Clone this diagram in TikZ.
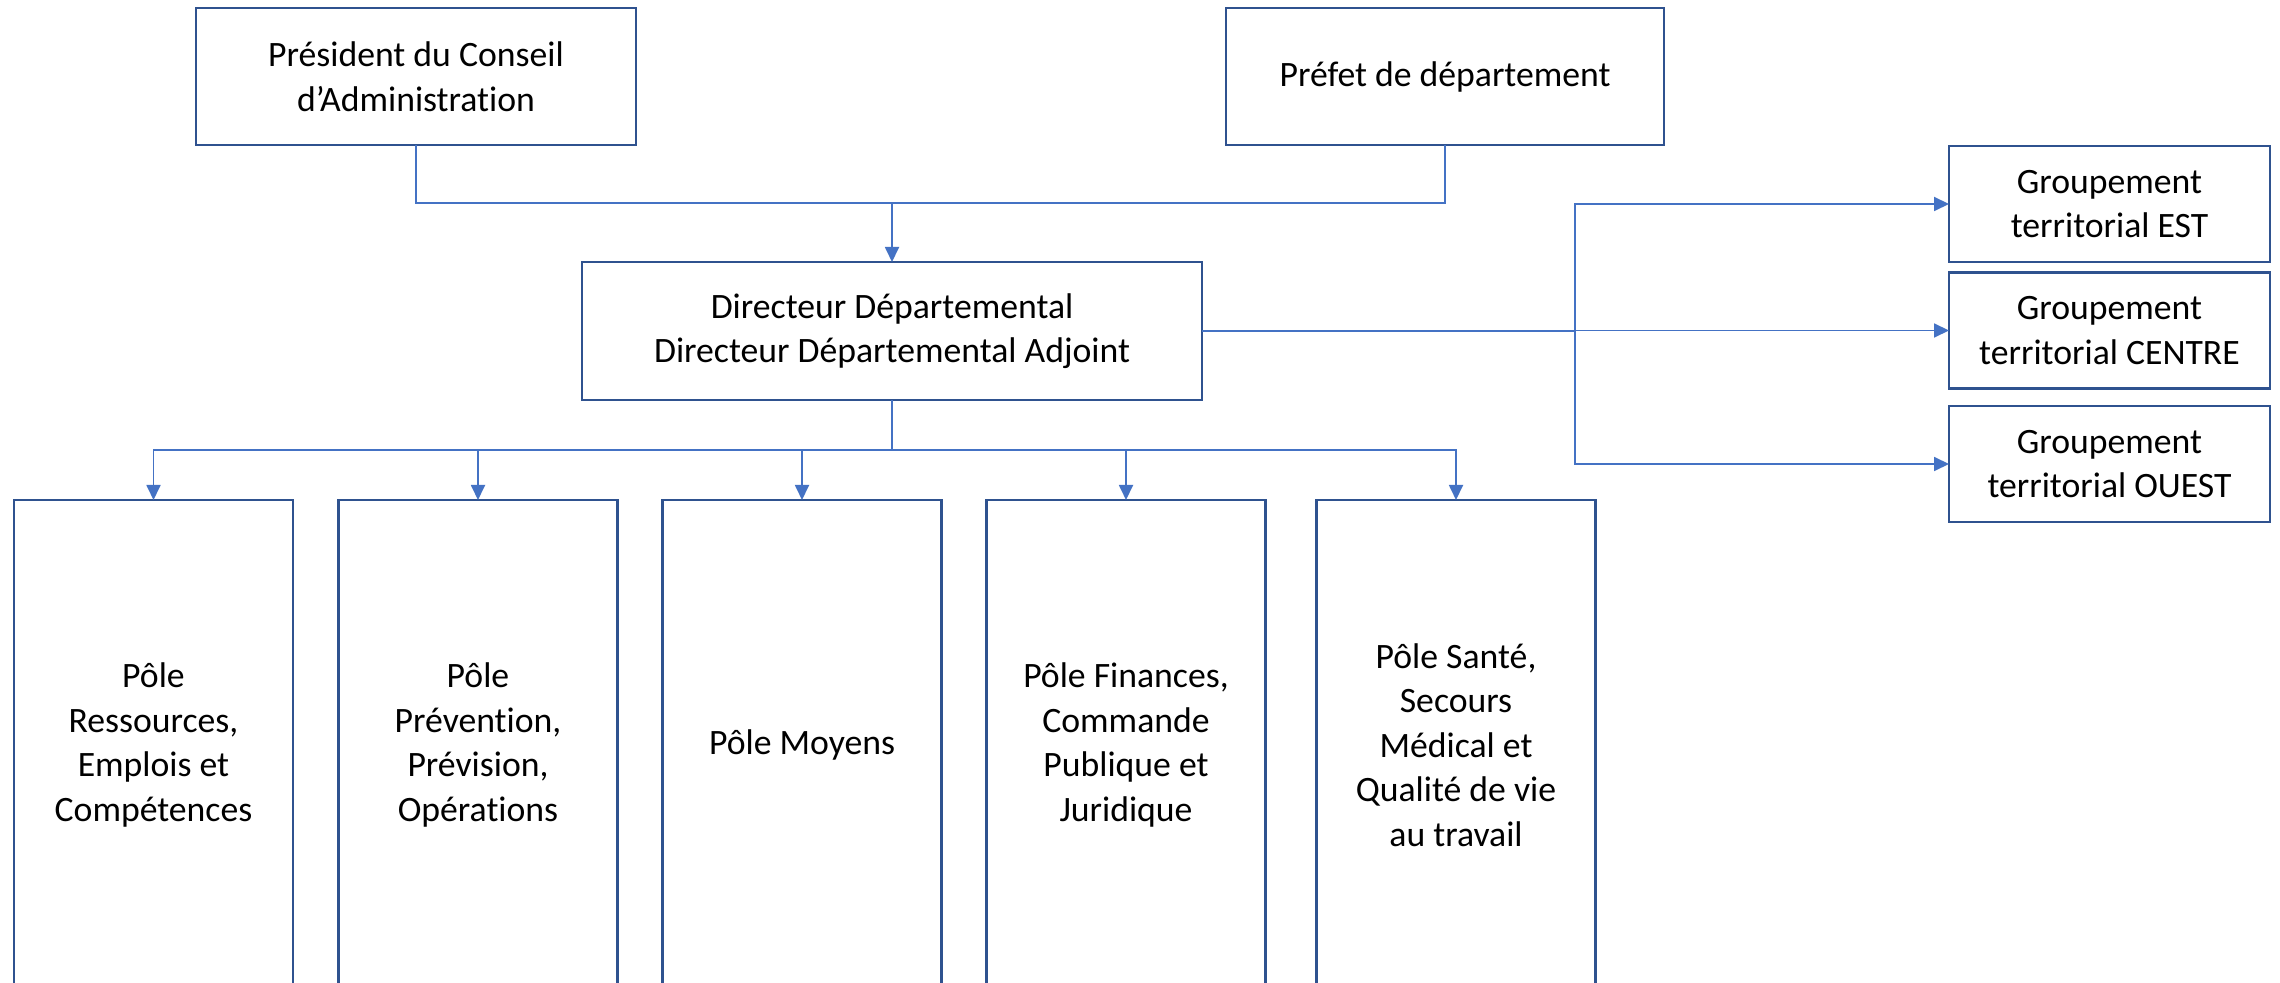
\documentclass[tikz,border=0pt]{standalone}
\usepackage{fontspec}
\setmainfont{Carlito}[Ligatures=NoCommon]
\usepackage{tikz}
\usetikzlibrary{arrows.meta}
\definecolor{boxblue}{HTML}{2F528F}
\definecolor{linkblue}{HTML}{4472C4}

\begin{document}
\begin{tikzpicture}[x=0.5pt,y=-0.5pt]
  \tikzset{BoxStyle/.style = {
    shape         = rectangle,
    draw          = boxblue,
    fill          = white,
    line width    = 1.1pt,
    text          = black,
    align         = center,
    inner sep     = 2pt,
    outer sep     = 0pt,
    font          = \fontsize{17.85}{22.25}\selectfont
    }
  }
  \tikzset{PoleStyle/.style = {
    BoxStyle,
    minimum width  = 139.5pt,
    minimum height = 245pt
    }
  }
  \tikzset{GroupStyle/.style = {
    BoxStyle,
    minimum width  = 160.5pt,
    minimum height = 58pt
    }
  }
  \tikzset{LinkStyle/.style = {
    draw          = linkblue,
    line width    = 0.9pt
    }
  }
  \tikzset{ArrowStyle/.style = {
    LinkStyle,
    -{Triangle[length=7.5pt,width=7pt]}
    }
  }

  \clip (0,0) rectangle (2280,983);
  \fill[white] (0,0) rectangle (2280,983);

	\node[BoxStyle, minimum width=220pt, minimum height=68.5pt](A1) at (416, 76.5) {Président du Conseil\\d’Administration};
	\node[BoxStyle, minimum width=219pt, minimum height=68.5pt](A2) at (1445, 76.5) {Préfet de département};
	\node[BoxStyle, minimum width=310pt, minimum height=69pt](B1) at (892, 331) {Directeur Départemental\\Directeur Départemental Adjoint};
	\node[PoleStyle](C1) at (153.5, 745) {Pôle\\Ressources,\\Emplois et\\Compétences};
	\node[PoleStyle](C2) at (478, 745) {Pôle\\Prévention,\\Prévision,\\Opérations};
	\node[PoleStyle](C3) at (802, 745) {Pôle Moyens};
	\node[PoleStyle](C4) at (1126, 745) {Pôle Finances,\\Commande\\Publique et\\Juridique};
	\node[PoleStyle](C5) at (1456, 745) {Pôle Santé,\\Secours\\Médical et\\Qualité de vie\\au travail};
	\node[GroupStyle](D1) at (2109.5, 204) {Groupement\\territorial EST};
	\node[GroupStyle](D2) at (2109.5, 330.5) {Groupement\\territorial CENTRE};
	\node[GroupStyle](D3) at (2109.5, 464) {Groupement\\territorial OUEST};

	\coordinate (J1) at (892, 203);
	\coordinate (J2) at (892, 450);
	\coordinate (J3) at (1575, 331);

	\draw[LinkStyle](A1.south) |- (J1);
	\draw[LinkStyle](A2.south) |- (J1);
	\draw[ArrowStyle](J1) -- (B1.north);

	\draw[LinkStyle](B1.south) -- (J2);
	\foreach \c in {C1,C2,C3,C4,C5}
	  \draw[ArrowStyle](J2) -| (\c.north);

	\draw[LinkStyle](B1.east) -- (J3);
	\foreach \d in {D1,D2,D3}
	  \draw[ArrowStyle](J3) |- (\d.west);
\end{tikzpicture}
\end{document}
